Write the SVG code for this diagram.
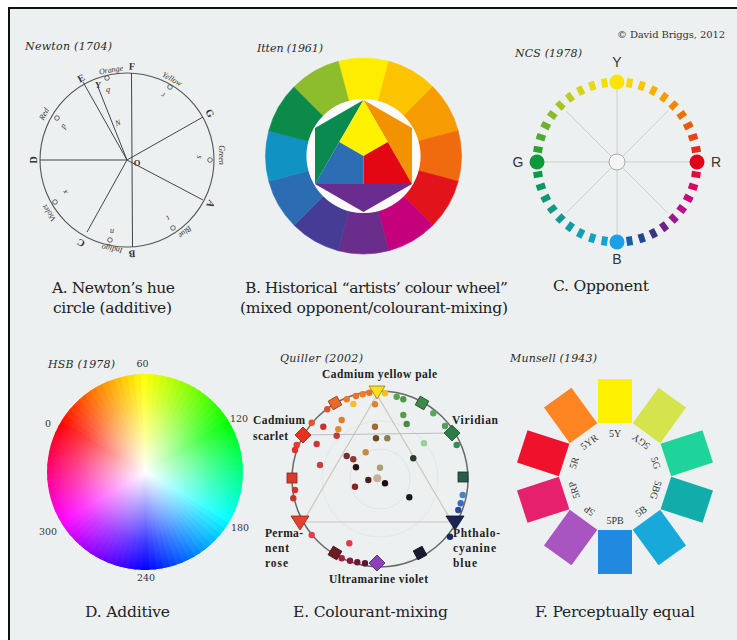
<svg xmlns="http://www.w3.org/2000/svg" xmlns:xlink="http://www.w3.org/1999/xlink" width="737" height="640" viewBox="0 0 737 640">
<style>
.cap{font-family:"DejaVu Serif","Liberation Serif",serif;font-size:15.5px;fill:#222;text-anchor:middle}
.sub{font-family:"DejaVu Serif","Liberation Serif",serif;font-style:italic;font-size:11px;fill:#2a2a2a}
.nl{font-family:"Liberation Serif",serif;font-weight:bold;font-size:10px;fill:#333;text-anchor:middle;dominant-baseline:central}
.nc{font-family:"Liberation Serif",serif;font-style:italic;font-size:8px;fill:#333;text-anchor:middle;dominant-baseline:central}
.ql{font-family:"Liberation Serif","DejaVu Serif",serif;font-weight:bold;font-size:11.5px;fill:#222}
.ncs{font-family:"Liberation Sans",Arial,sans-serif;font-size:14px;fill:#333;text-anchor:middle}
.num{font-family:"DejaVu Serif","Liberation Serif",serif;font-size:9.5px;fill:#333;text-anchor:middle}
.mu{font-family:"Liberation Serif",serif;font-size:10px;fill:#333;text-anchor:middle;dominant-baseline:central}
.nline{stroke:#444;stroke-width:1;fill:none}
.sc{fill:none;stroke:#444;stroke-width:0.8}
</style>
<defs>
<path id="w" d="M145 472 L242.92 468.07 A98 98 0 0 1 242.92 475.93 Z" fill="currentColor" stroke="currentColor" stroke-width="0.7" stroke-linejoin="round"/>
<path id="seg" d="M338.14 61.34 A98 98 0 0 1 388.86 61.34 L378.25 100.94 A57 57 0 0 0 348.75 100.94 Z" fill="currentColor" stroke="currentColor" stroke-width="0.6"/>
<rect id="d" x="-4.5" y="-3" width="9" height="6"/>
<rect id="mr" x="-22" y="-17" width="44" height="34"/>
<radialGradient id="wh" cx="145" cy="472" r="98" gradientUnits="userSpaceOnUse">
<stop offset="0" stop-color="#fff" stop-opacity="1"/>
<stop offset="0.35" stop-color="#fff" stop-opacity="0.62"/>
<stop offset="0.7" stop-color="#fff" stop-opacity="0.25"/>
<stop offset="1" stop-color="#fff" stop-opacity="0"/>
</radialGradient>
<clipPath id="hc"><circle cx="145" cy="472" r="98"/></clipPath>
</defs>

<g id="frame">
<rect x="0" y="0" width="737" height="640" fill="#ffffff"/>
<rect x="9" y="8" width="728" height="632" fill="#edf0f1"/>
<line x1="8" y1="8" x2="737" y2="8" stroke="#111" stroke-width="2"/>
<line x1="9" y1="7" x2="9" y2="640" stroke="#111" stroke-width="2"/>
<text x="617" y="38" textLength="108" style="font-family:'DejaVu Serif','Liberation Serif',serif;font-size:10px;fill:#333">© David Briggs, 2012</text>
</g>

<g id="panel-a">
<text class="sub" x="25" y="50" textLength="87">Newton (1704)</text>
<circle cx="127" cy="160" r="87" fill="none" stroke="#555" stroke-width="1.1"/>
<g class="nline">
<line x1="127" y1="160" x2="40" y2="160"/>
<line x1="127" y1="160" x2="83" y2="82"/>
<line x1="127" y1="160" x2="98" y2="87"/>
<line x1="131.5" y1="73" x2="132.5" y2="247"/>
<line x1="127" y1="160" x2="203" y2="117"/>
<line x1="127" y1="160" x2="203" y2="200"/>
<line x1="127" y1="160" x2="87" y2="232"/>
</g>
<text class="nl" transform="translate(33 160) rotate(-90)">D</text>
<text class="nl" transform="translate(81 78) rotate(-29)">E</text>
<text class="nl" transform="translate(132 66) rotate(2)">F</text>
<text class="nl" transform="translate(210 113) rotate(60)">G</text>
<text class="nl" transform="translate(211 204) rotate(118)">A</text>
<text class="nl" transform="translate(132 254) rotate(178)">B</text>
<text class="nl" transform="translate(81 243) rotate(209)">C</text>
<text class="nc" transform="translate(111 70) rotate(-10)">Orange</text>
<text class="nc" transform="translate(172 79) rotate(29)">Yellow</text>
<text class="nc" transform="translate(44 114) rotate(-61)">Red</text>
<text class="nc" transform="translate(221 155) rotate(90)">Green</text>
<text class="nc" transform="translate(185 232) rotate(141)">Blue</text>
<text class="nc" transform="translate(112 249) rotate(190)">Indigo</text>
<text class="nc" transform="translate(49 213) rotate(236)">Violet</text>
<circle class="sc" cx="107" cy="78" r="2.3"/>
<circle class="sc" cx="170" cy="87" r="2.3"/>
<circle class="sc" cx="57" cy="118" r="2.3"/>
<circle class="sc" cx="210" cy="160" r="2.3"/>
<circle class="sc" cx="173" cy="228" r="2.3"/>
<circle class="sc" cx="110" cy="240" r="2.3"/>
<circle class="sc" cx="55" cy="202" r="2.3"/>
<text class="nl" transform="translate(98 85)" style="font-size:8.5px">Y</text>
<text class="nc" transform="translate(108 89)">q</text>
<text class="nc" transform="translate(118 123) rotate(-20)">N</text>
<text class="nl" transform="translate(137 163)" style="font-size:8.5px">O</text>
<text class="nc" transform="translate(63 126) rotate(-60)">p</text>
<text class="nc" transform="translate(163 95) rotate(210)">r</text>
<text class="nc" transform="translate(199 157) rotate(90)">s</text>
<text class="nc" transform="translate(168 218) rotate(145)">t</text>
<text class="nc" transform="translate(112 230)">u</text>
<text class="nc" transform="translate(65 192) rotate(240)">x</text>
<text class="cap" x="113.5" y="293" textLength="123">A. Newton’s hue</text>
<text class="cap" x="112.5" y="313" textLength="119">circle (additive)</text>
</g>

<g id="panel-b">
<text class="sub" x="257" y="52" textLength="66">Itten (1961)</text>
<use href="#seg" color="#ffed00"/>
<use href="#seg" color="#fcc300" transform="rotate(30 363.5 156)"/>
<use href="#seg" color="#f69c00" transform="rotate(60 363.5 156)"/>
<use href="#seg" color="#f06a0e" transform="rotate(90 363.5 156)"/>
<use href="#seg" color="#e3131b" transform="rotate(120 363.5 156)"/>
<use href="#seg" color="#c5007c" transform="rotate(150 363.5 156)"/>
<use href="#seg" color="#6b2d8c" transform="rotate(180 363.5 156)"/>
<use href="#seg" color="#473c95" transform="rotate(210 363.5 156)"/>
<use href="#seg" color="#2c6cb2" transform="rotate(240 363.5 156)"/>
<use href="#seg" color="#1093c2" transform="rotate(270 363.5 156)"/>
<use href="#seg" color="#0b8a4a" transform="rotate(300 363.5 156)"/>
<use href="#seg" color="#8dbd2c" transform="rotate(330 363.5 156)"/>
<circle cx="363.5" cy="156" r="57" fill="#fbfbfb"/>
<polygon points="363.5,100 315,128 315,184" fill="#0a8a4e"/>
<polygon points="363.5,100 412,128 412,184" fill="#f39200"/>
<polygon points="315,184 412,184 363.5,212" fill="#6a2c8f"/>
<polygon points="363.5,100 339.25,142 363.5,156 387.75,142" fill="#fff200"/>
<polygon points="387.75,142 412,184 363.5,184 363.5,156" fill="#e30613"/>
<polygon points="339.25,142 363.5,156 363.5,184 315,184" fill="#2c6db3"/>
<text class="cap" x="376.5" y="293" textLength="263">B. Historical “artists’ colour wheel”</text>
<text class="cap" x="374" y="313" textLength="268">(mixed opponent/colourant-mixing)</text>
</g>

<g id="panel-c">
<text class="sub" x="515" y="57" textLength="67">NCS (1978)</text>
<g stroke="#cfcfcf" stroke-width="1">
<line x1="537" y1="162" x2="697" y2="162"/>
<line x1="617" y1="82" x2="617" y2="242"/>
<line x1="566.1" y1="110.9" x2="667.9" y2="213.1"/>
<line x1="667.9" y1="110.9" x2="566.1" y2="213.1"/>
</g>
<circle cx="617" cy="162" r="8" fill="#f5f5f5" stroke="#aaa" stroke-width="1"/>
<use href="#d" transform="translate(617 162) rotate(-81) translate(80 0)" fill="#fbd500"/>
<use href="#d" transform="translate(617 162) rotate(-72) translate(80 0)" fill="#f9c400"/>
<use href="#d" transform="translate(617 162) rotate(-63) translate(80 0)" fill="#f7b000"/>
<use href="#d" transform="translate(617 162) rotate(-54) translate(80 0)" fill="#f59c00"/>
<use href="#d" transform="translate(617 162) rotate(-45) translate(80 0)" fill="#f28600"/>
<use href="#d" transform="translate(617 162) rotate(-36) translate(80 0)" fill="#ef7000"/>
<use href="#d" transform="translate(617 162) rotate(-27) translate(80 0)" fill="#eb5a0a"/>
<use href="#d" transform="translate(617 162) rotate(-18) translate(80 0)" fill="#e84212"/>
<use href="#d" transform="translate(617 162) rotate(-9) translate(80 0)" fill="#e42a18"/>
<use href="#d" transform="translate(617 162) rotate(9) translate(80 0)" fill="#de0a40"/>
<use href="#d" transform="translate(617 162) rotate(18) translate(80 0)" fill="#d40a5e"/>
<use href="#d" transform="translate(617 162) rotate(27) translate(80 0)" fill="#c80a7a"/>
<use href="#d" transform="translate(617 162) rotate(36) translate(80 0)" fill="#b80c8a"/>
<use href="#d" transform="translate(617 162) rotate(45) translate(80 0)" fill="#9a1a8e"/>
<use href="#d" transform="translate(617 162) rotate(54) translate(80 0)" fill="#6e2288"/>
<use href="#d" transform="translate(617 162) rotate(63) translate(80 0)" fill="#3a3585"/>
<use href="#d" transform="translate(617 162) rotate(72) translate(80 0)" fill="#20488f"/>
<use href="#d" transform="translate(617 162) rotate(81) translate(80 0)" fill="#1660aa"/>
<use href="#d" transform="translate(617 162) rotate(99) translate(80 0)" fill="#14a4d4"/>
<use href="#d" transform="translate(617 162) rotate(108) translate(80 0)" fill="#10a3c4"/>
<use href="#d" transform="translate(617 162) rotate(117) translate(80 0)" fill="#0ea0b4"/>
<use href="#d" transform="translate(617 162) rotate(126) translate(80 0)" fill="#0f9ca4"/>
<use href="#d" transform="translate(617 162) rotate(135) translate(80 0)" fill="#119a94"/>
<use href="#d" transform="translate(617 162) rotate(144) translate(80 0)" fill="#129884"/>
<use href="#d" transform="translate(617 162) rotate(153) translate(80 0)" fill="#119774"/>
<use href="#d" transform="translate(617 162) rotate(162) translate(80 0)" fill="#0e9760"/>
<use href="#d" transform="translate(617 162) rotate(171) translate(80 0)" fill="#0b984c"/>
<use href="#d" transform="translate(617 162) rotate(189) translate(80 0)" fill="#2ca232"/>
<use href="#d" transform="translate(617 162) rotate(198) translate(80 0)" fill="#4eaa30"/>
<use href="#d" transform="translate(617 162) rotate(207) translate(80 0)" fill="#6cb22e"/>
<use href="#d" transform="translate(617 162) rotate(216) translate(80 0)" fill="#8abb2a"/>
<use href="#d" transform="translate(617 162) rotate(225) translate(80 0)" fill="#a6c326"/>
<use href="#d" transform="translate(617 162) rotate(234) translate(80 0)" fill="#c0cb20"/>
<use href="#d" transform="translate(617 162) rotate(243) translate(80 0)" fill="#d6d318"/>
<use href="#d" transform="translate(617 162) rotate(252) translate(80 0)" fill="#e8d90e"/>
<use href="#d" transform="translate(617 162) rotate(261) translate(80 0)" fill="#f6dd06"/>
<circle cx="617" cy="82" r="7.5" fill="#fde300"/>
<circle cx="697" cy="162" r="7.5" fill="#e1001a"/>
<circle cx="617" cy="242" r="7.5" fill="#1b9fe6"/>
<circle cx="537" cy="162" r="7.5" fill="#0a9a3a"/>
<text class="ncs" x="617" y="67">Y</text>
<text class="ncs" x="518" y="167">G</text>
<text class="ncs" x="716" y="167">R</text>
<text class="ncs" x="617" y="264">B</text>
<text class="cap" x="601" y="291" textLength="96">C. Opponent</text>
</g>

<g id="panel-d">
<text class="sub" x="48" y="368" textLength="67">HSB (1978)</text>
<g clip-path="url(#hc)">
<use href="#w" transform="rotate(-150 145 472)" color="hsl(0,100%,50%)"/>
<use href="#w" transform="rotate(-146 145 472)" color="hsl(4,100%,50%)"/>
<use href="#w" transform="rotate(-142 145 472)" color="hsl(8,100%,50%)"/>
<use href="#w" transform="rotate(-138 145 472)" color="hsl(12,100%,50%)"/>
<use href="#w" transform="rotate(-134 145 472)" color="hsl(16,100%,50%)"/>
<use href="#w" transform="rotate(-130 145 472)" color="hsl(20,100%,50%)"/>
<use href="#w" transform="rotate(-126 145 472)" color="hsl(24,100%,50%)"/>
<use href="#w" transform="rotate(-122 145 472)" color="hsl(28,100%,50%)"/>
<use href="#w" transform="rotate(-118 145 472)" color="hsl(32,100%,50%)"/>
<use href="#w" transform="rotate(-114 145 472)" color="hsl(36,100%,50%)"/>
<use href="#w" transform="rotate(-110 145 472)" color="hsl(40,100%,50%)"/>
<use href="#w" transform="rotate(-106 145 472)" color="hsl(44,100%,50%)"/>
<use href="#w" transform="rotate(-102 145 472)" color="hsl(48,100%,50%)"/>
<use href="#w" transform="rotate(-98 145 472)" color="hsl(52,100%,50%)"/>
<use href="#w" transform="rotate(-94 145 472)" color="hsl(56,100%,50%)"/>
<use href="#w" transform="rotate(-90 145 472)" color="hsl(60,100%,50%)"/>
<use href="#w" transform="rotate(-86 145 472)" color="hsl(64,100%,50%)"/>
<use href="#w" transform="rotate(-82 145 472)" color="hsl(68,100%,50%)"/>
<use href="#w" transform="rotate(-78 145 472)" color="hsl(72,100%,50%)"/>
<use href="#w" transform="rotate(-74 145 472)" color="hsl(76,100%,50%)"/>
<use href="#w" transform="rotate(-70 145 472)" color="hsl(80,100%,50%)"/>
<use href="#w" transform="rotate(-66 145 472)" color="hsl(84,100%,50%)"/>
<use href="#w" transform="rotate(-62 145 472)" color="hsl(88,100%,50%)"/>
<use href="#w" transform="rotate(-58 145 472)" color="hsl(92,100%,50%)"/>
<use href="#w" transform="rotate(-54 145 472)" color="hsl(96,100%,50%)"/>
<use href="#w" transform="rotate(-50 145 472)" color="hsl(100,100%,50%)"/>
<use href="#w" transform="rotate(-46 145 472)" color="hsl(104,100%,50%)"/>
<use href="#w" transform="rotate(-42 145 472)" color="hsl(108,100%,50%)"/>
<use href="#w" transform="rotate(-38 145 472)" color="hsl(112,100%,50%)"/>
<use href="#w" transform="rotate(-34 145 472)" color="hsl(116,100%,50%)"/>
<use href="#w" transform="rotate(-30 145 472)" color="hsl(120,100%,50%)"/>
<use href="#w" transform="rotate(-26 145 472)" color="hsl(124,100%,50%)"/>
<use href="#w" transform="rotate(-22 145 472)" color="hsl(128,100%,50%)"/>
<use href="#w" transform="rotate(-18 145 472)" color="hsl(132,100%,50%)"/>
<use href="#w" transform="rotate(-14 145 472)" color="hsl(136,100%,50%)"/>
<use href="#w" transform="rotate(-10 145 472)" color="hsl(140,100%,50%)"/>
<use href="#w" transform="rotate(-6 145 472)" color="hsl(144,100%,50%)"/>
<use href="#w" transform="rotate(-2 145 472)" color="hsl(148,100%,50%)"/>
<use href="#w" transform="rotate(2 145 472)" color="hsl(152,100%,50%)"/>
<use href="#w" transform="rotate(6 145 472)" color="hsl(156,100%,50%)"/>
<use href="#w" transform="rotate(10 145 472)" color="hsl(160,100%,50%)"/>
<use href="#w" transform="rotate(14 145 472)" color="hsl(164,100%,50%)"/>
<use href="#w" transform="rotate(18 145 472)" color="hsl(168,100%,50%)"/>
<use href="#w" transform="rotate(22 145 472)" color="hsl(172,100%,50%)"/>
<use href="#w" transform="rotate(26 145 472)" color="hsl(176,100%,50%)"/>
<use href="#w" transform="rotate(30 145 472)" color="hsl(180,100%,50%)"/>
<use href="#w" transform="rotate(34 145 472)" color="hsl(184,100%,50%)"/>
<use href="#w" transform="rotate(38 145 472)" color="hsl(188,100%,50%)"/>
<use href="#w" transform="rotate(42 145 472)" color="hsl(192,100%,50%)"/>
<use href="#w" transform="rotate(46 145 472)" color="hsl(196,100%,50%)"/>
<use href="#w" transform="rotate(50 145 472)" color="hsl(200,100%,50%)"/>
<use href="#w" transform="rotate(54 145 472)" color="hsl(204,100%,50%)"/>
<use href="#w" transform="rotate(58 145 472)" color="hsl(208,100%,50%)"/>
<use href="#w" transform="rotate(62 145 472)" color="hsl(212,100%,50%)"/>
<use href="#w" transform="rotate(66 145 472)" color="hsl(216,100%,50%)"/>
<use href="#w" transform="rotate(70 145 472)" color="hsl(220,100%,50%)"/>
<use href="#w" transform="rotate(74 145 472)" color="hsl(224,100%,50%)"/>
<use href="#w" transform="rotate(78 145 472)" color="hsl(228,100%,50%)"/>
<use href="#w" transform="rotate(82 145 472)" color="hsl(232,100%,50%)"/>
<use href="#w" transform="rotate(86 145 472)" color="hsl(236,100%,50%)"/>
<use href="#w" transform="rotate(90 145 472)" color="hsl(240,100%,50%)"/>
<use href="#w" transform="rotate(94 145 472)" color="hsl(244,100%,50%)"/>
<use href="#w" transform="rotate(98 145 472)" color="hsl(248,100%,50%)"/>
<use href="#w" transform="rotate(102 145 472)" color="hsl(252,100%,50%)"/>
<use href="#w" transform="rotate(106 145 472)" color="hsl(256,100%,50%)"/>
<use href="#w" transform="rotate(110 145 472)" color="hsl(260,100%,50%)"/>
<use href="#w" transform="rotate(114 145 472)" color="hsl(264,100%,50%)"/>
<use href="#w" transform="rotate(118 145 472)" color="hsl(268,100%,50%)"/>
<use href="#w" transform="rotate(122 145 472)" color="hsl(272,100%,50%)"/>
<use href="#w" transform="rotate(126 145 472)" color="hsl(276,100%,50%)"/>
<use href="#w" transform="rotate(130 145 472)" color="hsl(280,100%,50%)"/>
<use href="#w" transform="rotate(134 145 472)" color="hsl(284,100%,50%)"/>
<use href="#w" transform="rotate(138 145 472)" color="hsl(288,100%,50%)"/>
<use href="#w" transform="rotate(142 145 472)" color="hsl(292,100%,50%)"/>
<use href="#w" transform="rotate(146 145 472)" color="hsl(296,100%,50%)"/>
<use href="#w" transform="rotate(150 145 472)" color="hsl(300,100%,50%)"/>
<use href="#w" transform="rotate(154 145 472)" color="hsl(304,100%,50%)"/>
<use href="#w" transform="rotate(158 145 472)" color="hsl(308,100%,50%)"/>
<use href="#w" transform="rotate(162 145 472)" color="hsl(312,100%,50%)"/>
<use href="#w" transform="rotate(166 145 472)" color="hsl(316,100%,50%)"/>
<use href="#w" transform="rotate(170 145 472)" color="hsl(320,100%,50%)"/>
<use href="#w" transform="rotate(174 145 472)" color="hsl(324,100%,50%)"/>
<use href="#w" transform="rotate(178 145 472)" color="hsl(328,100%,50%)"/>
<use href="#w" transform="rotate(182 145 472)" color="hsl(332,100%,50%)"/>
<use href="#w" transform="rotate(186 145 472)" color="hsl(336,100%,50%)"/>
<use href="#w" transform="rotate(190 145 472)" color="hsl(340,100%,50%)"/>
<use href="#w" transform="rotate(194 145 472)" color="hsl(344,100%,50%)"/>
<use href="#w" transform="rotate(198 145 472)" color="hsl(348,100%,50%)"/>
<use href="#w" transform="rotate(202 145 472)" color="hsl(352,100%,50%)"/>
<use href="#w" transform="rotate(206 145 472)" color="hsl(356,100%,50%)"/>
<circle cx="145" cy="472" r="99" fill="url(#wh)"/>
</g>
<text class="num" x="142.5" y="367">60</text>
<text class="num" x="239" y="422">120</text>
<text class="num" x="240" y="531">180</text>
<text class="num" x="146" y="581">240</text>
<text class="num" x="48" y="535">300</text>
<text class="num" x="48" y="427">0</text>
<text class="cap" x="127.5" y="617" textLength="85">D. Additive</text>
</g>

<g id="panel-e">
<text class="sub" x="280" y="362" textLength="83">Quiller (2002)</text>
<circle cx="380" cy="479" r="30" fill="none" stroke="#dedede" stroke-width="0.8"/>
<circle cx="380" cy="479" r="58" fill="none" stroke="#e2e2e2" stroke-width="0.8"/>
<circle cx="380" cy="479" r="88" fill="none" stroke="#6a6a6a" stroke-width="1.5"/>
<polygon points="377,395 303,522 452,522" fill="none" stroke="#cfc6b8" stroke-width="1.2"/>
<line x1="303" y1="435" x2="452" y2="433" stroke="#bdbdbd" stroke-width="1.2"/>
<g stroke="none">
<circle cx="346.7" cy="399.3" r="3.2" fill="#e87a2a"/>
<circle cx="356" cy="396" r="3.2" fill="#e8732c"/>
<circle cx="362.7" cy="394.3" r="3.2" fill="#ec7a26"/>
<circle cx="369.3" cy="392.7" r="3.2" fill="#e8702a"/>
<circle cx="327.3" cy="409.3" r="3.2" fill="#e0502a"/>
<circle cx="311.7" cy="422.7" r="3.2" fill="#e0552e"/>
<circle cx="296.7" cy="445" r="3.2" fill="#e83a30"/>
<circle cx="295" cy="450" r="3.2" fill="#e03030"/>
<circle cx="295" cy="490" r="3.2" fill="#d8302a"/>
<circle cx="293.3" cy="498.3" r="3.2" fill="#c8302a"/>
<circle cx="311.7" cy="535" r="3.2" fill="#e04050"/>
<circle cx="341.7" cy="558.3" r="3.2" fill="#a02040"/>
<circle cx="350" cy="560.7" r="3.2" fill="#8a1838"/>
<circle cx="357.3" cy="562.3" r="3.2" fill="#701530"/>
<circle cx="365" cy="563.3" r="3.2" fill="#5a1530"/>
<circle cx="385" cy="393.3" r="3.2" fill="#f2c020"/>
<circle cx="396.7" cy="396.7" r="3.2" fill="#5a9e50"/>
<circle cx="403.3" cy="399.3" r="3.2" fill="#4a9a48"/>
<circle cx="433.3" cy="413.3" r="3.2" fill="#5aa860"/>
<circle cx="445" cy="426" r="3.2" fill="#50a055"/>
<circle cx="456.7" cy="445" r="3.2" fill="#3a8a50"/>
<circle cx="462.7" cy="495" r="3.2" fill="#4a82c8"/>
<circle cx="460.7" cy="503.3" r="3.2" fill="#3a6cc0"/>
<circle cx="458.3" cy="510" r="3.2" fill="#2a4a98"/>
<circle cx="450" cy="536.7" r="3.2" fill="#1a2a60"/>
<circle cx="353.3" cy="404" r="3.2" fill="#f0c030"/>
<circle cx="375" cy="404.3" r="3.2" fill="#d8862e"/>
<circle cx="341.7" cy="420" r="3.2" fill="#e07a30"/>
<circle cx="338.3" cy="429.3" r="3.2" fill="#e08a30"/>
<circle cx="323.3" cy="426.7" r="3.2" fill="#c83030"/>
<circle cx="336.7" cy="435.7" r="3.2" fill="#c03830"/>
<circle cx="316.7" cy="444" r="3.2" fill="#c83838"/>
<circle cx="320" cy="465" r="3.2" fill="#c84040"/>
<circle cx="375" cy="426.7" r="3.2" fill="#a06a30"/>
<circle cx="376" cy="438.3" r="3.2" fill="#6a4a22"/>
<circle cx="387.3" cy="438.3" r="3.2" fill="#8a8050"/>
<circle cx="403.3" cy="415" r="3.2" fill="#5a9a50"/>
<circle cx="406.7" cy="424" r="3.2" fill="#4a8a40"/>
<circle cx="424" cy="443.3" r="3.2" fill="#9ad094"/>
<circle cx="413.3" cy="458.3" r="3.2" fill="#2a3a30"/>
<circle cx="365.7" cy="452.3" r="3.2" fill="#c88a40"/>
<circle cx="346.7" cy="456" r="3.2" fill="#7a2a30"/>
<circle cx="353.3" cy="459.3" r="3.2" fill="#8a3a30"/>
<circle cx="356" cy="467.3" r="3.2" fill="#2a1010"/>
<circle cx="380" cy="467.7" r="3.2" fill="#a8a070"/>
<circle cx="368.3" cy="480" r="3.2" fill="#4a2020"/>
<circle cx="377.3" cy="478.3" r="4" fill="#c8ae98"/>
<circle cx="385" cy="483.3" r="3.2" fill="#1a1010"/>
<circle cx="355" cy="486.7" r="3.2" fill="#8a2020"/>
<circle cx="409.3" cy="497.3" r="3.2" fill="#1a1a1a"/>
<circle cx="349.3" cy="543.3" r="3.2" fill="#e03a4a"/>
</g>
<g stroke-width="0.8">
<rect x="-5" y="-5" width="10" height="10" transform="translate(335 403) rotate(-30)" fill="#e8692a" stroke="#9a3a10"/>
<rect x="-5" y="-5" width="10" height="10" transform="translate(422 403) rotate(30)" fill="#3d8b48" stroke="#1e4a24"/>
<rect x="-5" y="-5" width="10" height="10" transform="translate(463 477)" fill="#2b5e4a" stroke="#163426"/>
<rect x="-5" y="-5" width="10" height="10" transform="translate(292 478)" fill="#d83b2b" stroke="#8a1e12"/>
<rect x="-5" y="-5" width="10" height="10" transform="translate(335 553) rotate(31)" fill="#6e1b22" stroke="#3a0a10"/>
<rect x="-5" y="-5" width="10" height="10" transform="translate(420 553) rotate(-28)" fill="#1b1b30" stroke="#0a0a18"/>
<polygon points="369,386 385,386 377,399" fill="#ffe01c" stroke="#9a7a00"/>
<polygon points="446,516 464,516 455,530" fill="#1c2350" stroke="#0e1228"/>
<polygon points="291,516 309,516 300,530" fill="#e8402e" stroke="#9a2015"/>
<polygon points="303,427 311,435 303,443 295,435" fill="#e8321e" stroke="#a01a10"/>
<polygon points="452,425 460,433 452,441 444,433" fill="#2f7d46" stroke="#1a4a28"/>
<polygon points="377,555 385,563 377,571 369,563" fill="#8e40b8" stroke="#4a1a6a"/>
</g>
<text class="ql" x="322" y="378" textLength="115">Cadmium yellow pale</text>
<text class="ql" x="253" y="424" textLength="52">Cadmium</text>
<text class="ql" x="253" y="440" textLength="35">scarlet</text>
<text class="ql" x="452" y="424" textLength="46">Viridian</text>
<text class="ql" x="265" y="537" textLength="38">Perma-</text>
<text class="ql" x="265" y="552" textLength="24">nent</text>
<text class="ql" x="265" y="567" textLength="23">rose</text>
<text class="ql" x="453" y="537" textLength="47">Phthalo-</text>
<text class="ql" x="453" y="552" textLength="43">cyanine</text>
<text class="ql" x="453" y="567" textLength="24">blue</text>
<text class="ql" x="329" y="583" textLength="99">Ultramarine violet</text>
<text class="cap" x="370.5" y="617" textLength="155">E. Colourant-mixing</text>
</g>

<g id="panel-f">
<text class="sub" x="510" y="362" textLength="87">Munsell (1943)</text>
<use href="#mr" transform="translate(615 476.5) rotate(-90) translate(75.5 0)" fill="#fff200"/>
<use href="#mr" transform="translate(615 476.5) rotate(-54) translate(75.5 0)" fill="#d5e34d"/>
<use href="#mr" transform="translate(615 476.5) rotate(-18) translate(75.5 0)" fill="#1ed49a"/>
<use href="#mr" transform="translate(615 476.5) rotate(18) translate(75.5 0)" fill="#10adab"/>
<use href="#mr" transform="translate(615 476.5) rotate(54) translate(75.5 0)" fill="#16a9d9"/>
<use href="#mr" transform="translate(615 476.5) rotate(90) translate(75.5 0)" fill="#2189e0"/>
<use href="#mr" transform="translate(615 476.5) rotate(126) translate(75.5 0)" fill="#a855c2"/>
<use href="#mr" transform="translate(615 476.5) rotate(162) translate(75.5 0)" fill="#e6206c"/>
<use href="#mr" transform="translate(615 476.5) rotate(198) translate(75.5 0)" fill="#f0122c"/>
<use href="#mr" transform="translate(615 476.5) rotate(234) translate(75.5 0)" fill="#ff8422"/>
<text class="mu" transform="translate(615 433.5)">5Y</text>
<text class="mu" transform="translate(640.9 441.9) rotate(216)">5GY</text>
<text class="mu" transform="translate(656 462.9) rotate(72)">5G</text>
<text class="mu" transform="translate(656 490.1) rotate(108)">5BG</text>
<text class="mu" transform="translate(640.9 511.1) rotate(-36)">5B</text>
<text class="mu" transform="translate(615 520)">5PB</text>
<text class="mu" transform="translate(589.1 511.1) rotate(216)">5P</text>
<text class="mu" transform="translate(574 490.1) rotate(-108)">5RP</text>
<text class="mu" transform="translate(574 462.9) rotate(-72)">5R</text>
<text class="mu" transform="translate(589.1 441.9) rotate(-36)">5YR</text>
<text class="cap" x="615" y="617" textLength="160">F. Perceptually equal</text>
</g>
</svg>
